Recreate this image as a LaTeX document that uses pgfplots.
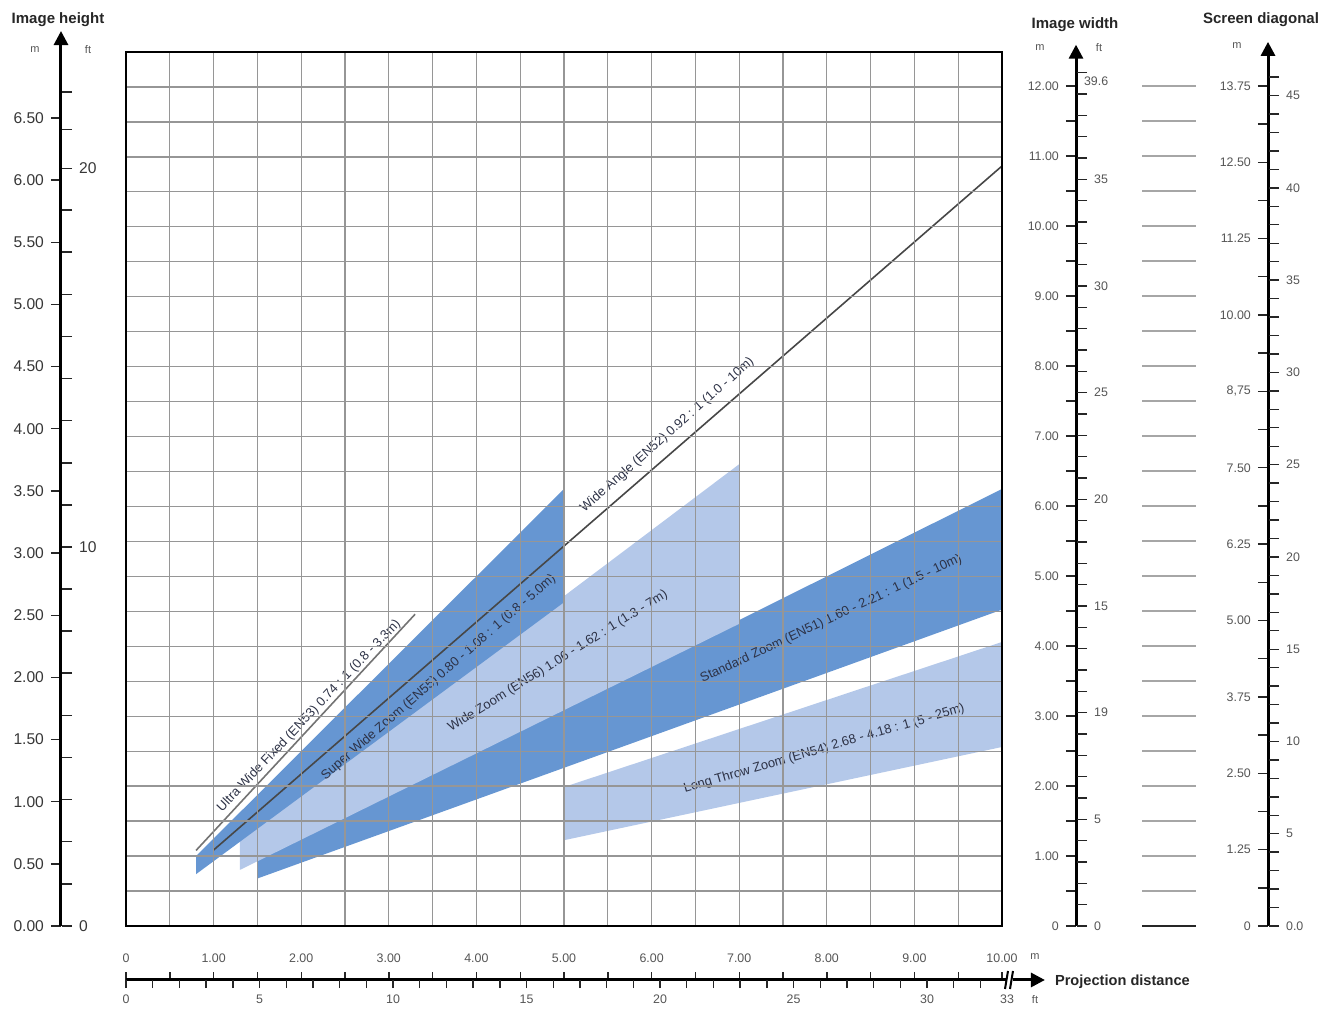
\documentclass[border=0pt]{standalone}
\usepackage{pgfplots}
\pgfplotsset{compat=1.18}
\usepackage{fontspec}
\setmainfont{Liberation Sans}
\usetikzlibrary{arrows.meta}
\definecolor{bandD}{RGB}{102,150,210}
\definecolor{bandL}{RGB}{180,200,233}
\definecolor{gridc}{RGB}{150,150,150}
\definecolor{labc}{RGB}{55,55,55}
\definecolor{labr}{RGB}{85,85,85}
\definecolor{txtc}{RGB}{45,50,70}
\tikzset{bandlab/.style={font=\fontsize{6.5}{7}\selectfont, text=txtc, inner sep=1pt}}
\pgfplotsset{
  sidescale/.style={scale only axis, axis x line=none, xtick=\empty, xmin=0, xmax=0.5, x=1pt,
    ymin=0, clip=false, anchor=south west,
    tick style={black!85, line width=0.7pt}, major tick length=5pt, minor tick length=5pt,
    tick align=outside},
  leftpart/.style={axis y line*=left, y axis line style={line width=1.5pt, -{Triangle[length=7pt,width=7pt]}}},
  rightpart/.style={axis y line*=right, y axis line style={draw=none}},
  smalllab/.style={font=\fontsize{6.2}{7}\selectfont, text=labr},
  biglab/.style={font=\fontsize{7.8}{9}\selectfont, text=labc},
}
\begin{document}
\begin{tikzpicture}
\useasboundingbox (0,0) rectangle (664.5pt,507.5pt);

% ---------------- main chart ----------------
\begin{axis}[scale only axis, at={(63pt,44.5pt)}, anchor=south west,
  x=43.8pt, y=62.15pt, xmin=0, xmax=10, ymin=0, ymax=7.03125,
  axis on top, xtick={0,0.5,...,10}, ytick={0,0.28125,...,7.03125},
  xticklabels={}, yticklabels={}, major tick length=0pt,
  grid=major, grid style={gridc, line width=0.65pt},
  axis line style={black, line width=1pt}]
% Standard Zoom (EN51)
\addplot[fill=bandD, draw=none] coordinates {(1.5,0.382) (10,2.545) (10,3.516) (1.5,0.527)} -- cycle;
% Long Throw Zoom (EN54)
\addplot[fill=bandL, draw=none] coordinates {(5,0.69) (10,1.44) (10,2.285) (5,1.118)} -- cycle;
% Wide Zoom (EN56)
\addplot[fill=bandL, draw=none] coordinates {(1.3,0.451) (7,2.431) (7,3.715) (1.3,0.690)} -- cycle;
% Super Wide Zoom (EN55)
\addplot[fill=bandD, draw=none] coordinates {(0.8,0.417) (5,2.604) (5,3.516) (0.8,0.5625)} -- cycle;
% Ultra Wide Fixed (EN53)
\addplot[draw=black!55, line width=0.8pt] coordinates {(0.8,0.608) (3.3,2.508)};
% Wide Angle (EN52)
\addplot[draw=black!72, line width=0.8pt] coordinates {(1.0,0.611) (10,6.114)};

\node[rotate=46.5, bandlab] at (axis cs:2.09,1.69) {Ultra Wide Fixed (EN53) 0.74 : 1 (0.8 - 3.3m)};
\node[rotate=41, bandlab] at (axis cs:3.57,2.0) {Super Wide Zoom (EN55) 0.80 - 1.08 : 1 (0.8 - 5.0m)};
\node[rotate=41.5, bandlab] at (axis cs:6.18,3.95) {Wide Angle (EN52) 0.92 : 1 (1.0 - 10m)};
\node[rotate=32, bandlab] at (axis cs:4.93,2.13) {Wide Zoom (EN56) 1.06 - 1.62 : 1 (1.3 - 7m)};
\node[rotate=25, bandlab] at (axis cs:8.05,2.47) {Standard Zoom (EN51) 1.60 - 2.21 : 1 (1.5 - 10m)};
\node[rotate=16.2, bandlab] at (axis cs:7.97,1.424) {Long Throw Zoom (EN54) 2.68 - 4.18 : 1 (5 - 25m)};
\end{axis}

% ---------------- image height scale ----------------
\begin{axis}[sidescale, leftpart, at={(30.5pt,44.5pt)}, y=62.15pt, ymax=7.2,
  ytick={0,0.5,...,6.5},
  yticklabels={0.00,0.50,1.00,1.50,2.00,2.50,3.00,3.50,4.00,4.50,5.00,5.50,6.00,6.50},
  yticklabel style={biglab}]
\end{axis}
\begin{axis}[sidescale, rightpart, at={(30.5pt,44.5pt)}, y=62.15pt, ymax=7.2,
  ytick={0,0.339,0.678,1.017,1.356,1.695,2.034,2.373,2.712,3.048,3.387,3.726,4.065,4.404,4.743,5.082,5.421,5.760,6.096,6.41,6.71},
  yticklabels={0,,,,,,,,,10,,,,,,,,,20,,},
  yticklabel style={biglab}]
\end{axis}

% ---------------- image width scale ----------------
\begin{axis}[sidescale, leftpart, at={(538pt,44.5pt)}, y=35pt, ymax=12.59,
  ytick={0,1,...,12}, minor ytick={0.5,1.5,...,11.5},
  yticklabels={0,1.00,2.00,3.00,4.00,5.00,6.00,7.00,8.00,9.00,10.00,11.00,12.00},
  yticklabel style={smalllab}]
\end{axis}
\begin{axis}[sidescale, rightpart, at={(538pt,44.5pt)}, y=35pt, ymax=12.59,
  ytick={0,0.3048,...,12.2},
  yticklabels={0,,,,,5,,,,,19,,,,,15,,,,,20,,,,,25,,,,,30,,,,,35,,,,,},
  extra y ticks={12.07}, extra y tick labels={39.6}, extra y tick style={major tick length=0pt},
  yticklabel style={smalllab}]
\end{axis}

% ---------------- gray guide lines ----------------
\begin{axis}[scale only axis, at={(571pt,44.5pt)}, anchor=south west,
  x=27pt, y=35pt, xmin=0, xmax=1, ymin=0, ymax=12,
  axis line style={draw=none}, xtick=\empty, ytick={0.5,1,...,12}, yticklabels={},
  major tick length=0pt, ymajorgrids, grid style={black!35, line width=0.8pt},
  extra y ticks={0}, extra y tick labels={}, extra y tick style={grid style={black!85, line width=0.9pt}}]
\end{axis}

% ---------------- screen diagonal scale ----------------
\begin{axis}[sidescale, leftpart, at={(634pt,44.5pt)}, y=30.55pt, ymax=14.47,
  ytick={0,1.25,...,13.75}, minor ytick={0.625,1.875,...,13.2},
  yticklabels={0,1.25,2.50,3.75,5.00,6.25,7.50,{8,75},10.00,11.25,12.50,13.75},
  yticklabel style={smalllab}]
\end{axis}
\begin{axis}[sidescale, rightpart, at={(634pt,44.5pt)}, y=30.55pt, ymax=14.47,
  ytick={0,0.302,...,13.95},
  yticklabels={0.0,,,,,5,,,,,10,,,,,15,,,,,20,,,,,25,,,,,30,,,,,35,,,,,40,,,,,45,},
  yticklabel style={smalllab}]
\end{axis}

% ---------------- projection distance scale ----------------
\begin{axis}[scale only axis, at={(63pt,17.5pt)}, anchor=south west,
  x=43.8pt, y=1pt, xmin=0, xmax=10.49, ymin=0, ymax=0.5, clip=false,
  axis y line=none, ytick=\empty,
  axis x line*=bottom, x axis line style={line width=1.5pt, -{Triangle[length=7pt,width=7pt]}},
  tick style={black!85, line width=0.7pt}, major tick length=4pt, tick align=inside,
  xtick={0,0.5,...,10},
  xticklabels={0,,1.00,,2.00,,3.00,,4.00,,5.00,,6.00,,7.00,,8.00,,9.00,,10.00},
  xticklabel style={smalllab, anchor=south, yshift=5pt}]
\end{axis}
\begin{axis}[scale only axis, at={(63pt,17.5pt)}, anchor=south west,
  x=43.8pt, y=1pt, xmin=0, xmax=10.49, ymin=0, ymax=0.5, clip=false,
  axis y line=none, ytick=\empty,
  axis x line*=bottom, x axis line style={draw=none},
  tick style={black!85, line width=0.7pt}, major tick length=4pt, tick align=outside,
  xtick={0,0.3048,...,10.07},
  xticklabels={0,,,,,5,,,,,10,,,,,15,,,,,20,,,,,25,,,,,30,,,33},
  xticklabel style={smalllab}]
\end{axis}

% axis break mark
\fill[white] (503pt,13pt) rectangle (506.5pt,22pt);
\draw[black, line width=1pt] (502.5pt,13pt) -- (504pt,22pt);
\draw[black, line width=1pt] (505pt,13pt) -- (506.5pt,22pt);

% ---------------- titles ----------------
\node[font=\fontsize{7.5}{8}\selectfont\bfseries, text=black!85] at (29pt,497.5pt) {Image height};
\node[font=\fontsize{5.5}{6}\selectfont, text=labr] at (17.5pt,482.5pt) {m};
\node[font=\fontsize{5.5}{6}\selectfont, text=labr] at (44pt,482.5pt) {ft};
\node[font=\fontsize{7.5}{8}\selectfont\bfseries, text=black!85] at (537.5pt,495pt) {Image width};
\node[font=\fontsize{5.5}{6}\selectfont, text=labr] at (520pt,483.5pt) {m};
\node[font=\fontsize{5.5}{6}\selectfont, text=labr] at (549.5pt,483.5pt) {ft};
\node[font=\fontsize{7.5}{8}\selectfont\bfseries, text=black!85] at (630.5pt,497.5pt) {Screen diagonal};
\node[font=\fontsize{5.5}{6}\selectfont, text=labr] at (618.5pt,484.5pt) {m};
\node[font=\fontsize{7.3}{8}\selectfont\bfseries, text=black!85, anchor=west] at (524pt,16.5pt) {Projection distance};
\node[font=\fontsize{5.5}{6}\selectfont, text=labr] at (517.5pt,29pt) {m};
\node[font=\fontsize{5.5}{6}\selectfont, text=labr] at (517.5pt,7.5pt) {ft};
\end{tikzpicture}
\end{document}
